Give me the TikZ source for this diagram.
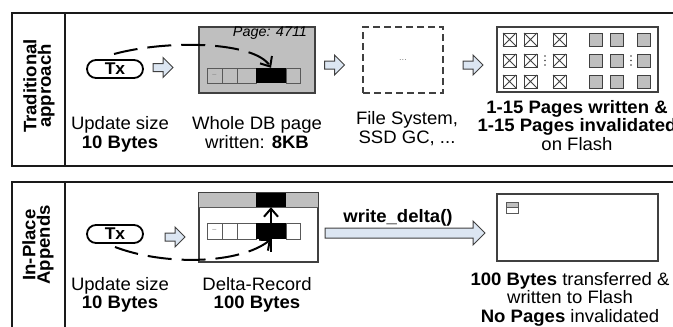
\documentclass[tikz,border=0pt]{standalone}
\usepackage{fontspec}
\setmainfont[FakeStretch=1.03]{Liberation Sans}
\usetikzlibrary{arrows.meta}
\definecolor{pagegray}{HTML}{BFBFBF}
\definecolor{arrowblue}{HTML}{DCE6F2}
\definecolor{linegray}{HTML}{404040}
\definecolor{cellgray}{HTML}{595959}
\definecolor{framecol}{HTML}{1A1A1A}
\begin{document}
\begin{tikzpicture}[x=1pt,y=-1pt,
  frame/.style={draw=framecol,line width=1.4pt},
  sidelbl/.style={rotate=90,font=\fontsize{18}{14.5}\selectfont\bfseries,align=center,inner sep=0pt},
  lbl/.style={font=\fontsize{18}{18.5}\selectfont,align=center,inner sep=0pt,anchor=north},
  txnode/.style={draw=black,line width=1.8pt,rounded corners=9pt,minimum width=56pt,minimum height=18pt,inner sep=0pt,font=\fontsize{17}{17}\selectfont\bfseries},
  boxline/.style={draw=linegray,line width=1.3pt},
  cellline/.style={draw=cellgray,line width=0.9pt},
  blkcell/.style={fill=black,inner sep=0pt,minimum width=30pt},
  dashline/.style={line width=2pt,dash pattern=on 24pt off 10pt},
  tipstyle/.style={-{Straight Barb[length=8pt,width=14pt]}},
  sq/.style={draw=linegray,line width=0.9pt},
  barrow/.pic={\draw[line width=1pt,draw=linegray,fill=arrowblue,line join=miter]
     (-10,-4) -- (0,-4) -- (0,-10) -- (10,0) -- (0,10) -- (0,4) -- (-10,4) -- cycle;},
  dots/.style={font=\fontsize{7}{7}\selectfont,text=gray,inner sep=0pt}
]
\useasboundingbox (0,0) rectangle (673,327);
\clip (0,0) rectangle (673,327);

% panels
\draw[frame] (12,13) rectangle (695,166);
\draw[frame] (65,13) -- (65,166);
\draw[frame] (12,182) rectangle (695,345);
\draw[frame] (65,182) -- (65,345);
\node[sidelbl] (lab1) at (39,86) {Traditional\\approach};
\node[sidelbl] (lab2) at (38,245) {In-Place\\Appends};

% ---------- top row ----------
\node[txnode] (tx1) at (115,69) {Tx};
\pic at (163,67.5) {barrow};

\node[boxline,fill=pagegray,minimum width=116pt,minimum height=66pt,inner sep=0pt] (page1) at (257,60) {};
\node[font=\fontsize{14}{14}\selectfont\itshape,inner sep=0pt] (pgno) at (270,33) {Page: 4711};
\draw[cellline] (207,68) rectangle (222,83);
\draw[cellline] (222,68) rectangle (237,83);
\draw[cellline] (237,68) rectangle (256,83);
\draw[cellline] (286,68) rectangle (300,83);
\node[dots] (d1) at (214.5,75) {--};
\node[blkcell,minimum height=15pt] (blk1) at (271,75.5) {};
\coordinate (s1) at (114,54);
\draw[dashline,tipstyle] (s1) .. controls (170,39) and (255,42) .. (blk1.north);

\pic at (334.5,65) {barrow};
\node[draw=linegray,line width=1.3pt,dash pattern=on 7pt off 4pt,minimum width=80pt,minimum height=66pt,inner sep=0pt,font=\fontsize{9}{9}\selectfont,text=gray] (fs) at (403,60) {...};

\pic at (473,65) {barrow};
\node[boxline,minimum width=161pt,minimum height=65pt,inner sep=0pt] (flash1) at (577.5,59.5) {};
\foreach \x in {503,524,553} \foreach \y in {33,54,75} {
  \draw[sq,fill=white] (\x,\y) rectangle ++(13,13);
  \draw[sq] (\x,\y) -- ++(13,13) (\x+13,\y) -- ++(-13,13);
}
\foreach \x in {589,610,637} \foreach \y in {33,54,75} {
  \draw[sq,fill=pagegray] (\x,\y) rectangle ++(13,13);
}
\foreach \x in {545,631} \foreach \y in {56,60.5,65} {
  \fill[linegray] (\x,\y) circle (0.9);
}

\node[lbl] (t1) at (120,116.5) {Update size\\\textbf{10 Bytes}};
\node[lbl] (t2) at (257,116.5) {Whole DB page\\written: \textbf{8KB}};
\node[lbl] (t3) at (407,111.5) {File System,\\SSD GC, ...};
\node[lbl] (t4) at (577,100) {\textbf{1-15 Pages written \&}\\\textbf{1-15 Pages invalidated}\\on Flash};

% ---------- bottom row ----------
\node[txnode] (tx2) at (115,234) {Tx};
\pic at (175,237) {barrow};

\node[boxline,fill=white,minimum width=119pt,minimum height=69pt,inner sep=0pt] (delta) at (258.5,227.5) {};
\fill[pagegray] (199,193) rectangle (318,207);
\node[blkcell,minimum height=14pt] (blk2top) at (271,200) {};
\draw[cellline] (199,207) -- (318,207);
\draw[boxline] (delta.north west) rectangle (delta.south east);
\draw[cellline,fill=white] (207,223) rectangle (222,239);
\draw[cellline,fill=white] (222,223) rectangle (237,239);
\draw[cellline,fill=white] (237,223) rectangle (256,239);
\draw[cellline,fill=white] (286,223) rectangle (300,239);
\node[dots] (d2) at (214.5,230.5) {--};
\node[blkcell,minimum height=16pt] (blk2) at (271,231) {};
\coordinate (s2) at (115,247);
\coordinate (s3) at (271,252);
\draw[dashline,tipstyle] (s2) .. controls (165,266) and (240,264) .. (blk2.south);
\draw[line width=2pt,tipstyle] (s3) -- (blk2top.south);

\draw[line width=1pt,draw=linegray,fill=arrowblue,line join=miter]
  (325,228) -- (473,228) -- (473,221) -- (485,233) -- (473,245) -- (473,238) -- (325,238) -- cycle;
\node[font=\fontsize{18}{18}\selectfont\bfseries,inner sep=0pt] (wd) at (398,218) {write\_delta()};

\node[boxline,minimum width=161pt,minimum height=67pt,inner sep=0pt] (flash2) at (577.5,227.5) {};
\fill[pagegray] (506,202) rectangle (518,207.5);
\draw[cellline] (506,202) rectangle (518,213) (506,207.5) -- (518,207.5);

\node[lbl] (b1) at (120,277) {Update size\\\textbf{10 Bytes}};
\node[lbl] (b2) at (257,277) {Delta-Record\\\textbf{100 Bytes}};
\node[lbl] (b3) at (570,272) {\textbf{100 Bytes} transferred \&\\written to Flash\\\textbf{No Pages} invalidated};
\end{tikzpicture}
\end{document}
